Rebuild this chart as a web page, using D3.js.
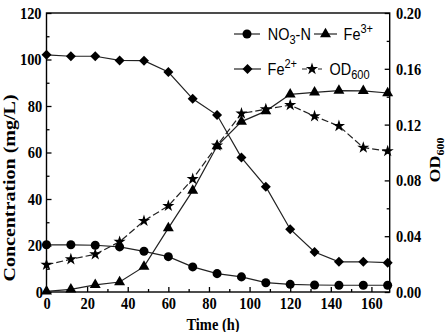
<!DOCTYPE html>
<meta charset="utf-8">
<style>
  body {
    margin: 0;
    background-color: white;
  }

  .sq {
    transform-box: fill-box;
    transform-origin: center;
    transform: scaleX(0.85);
  }

  .sqy {
    transform-box: fill-box;
    transform-origin: center;
    transform: scaleY(0.85);
  }

  .axis text {
    font: bold 17px "Liberation Serif", "Times New Roman", serif;
    fill: #000;
  }

  .axis path,
  .axis line {
    stroke: #000;
    stroke-width: 1.3;
  }
</style>

<body>
  <div id="chart"></div>

  <script src="https://cdn.jsdelivr.net/npm/d3@7/dist/d3.min.js"></script>

  <script>
    var times = [0, 12, 24, 36, 48, 60, 72, 84, 96, 108, 120, 132, 144, 156, 168];
    var no3 = [20.3, 20.3, 20.1, 19.4, 17.5, 15.2, 10.8, 7.9, 6.5, 4.0, 3.3, 3.0, 2.9, 2.9, 2.9];
    var fe3 = [0.3, 1.1, 3.1, 4.3, 10.9, 27.5, 43.6, 62.8, 73.3, 77.8, 85.0, 85.9, 86.6, 86.5, 85.6];
    var fe2 = [102.0, 101.4, 101.4, 99.6, 99.5, 94.6, 83.1, 76.1, 57.8, 45.3, 27.0, 17.2, 13.0, 13.0, 12.6];
    var od600 = [0.0195, 0.0235, 0.027, 0.036, 0.051, 0.0617, 0.081, 0.105, 0.128, 0.131, 0.134, 0.126, 0.119, 0.1035, 0.101];

    var xTicks = [0, 20, 40, 60, 80, 100, 120, 140, 160];
    var yTicks = [0, 20, 40, 60, 80, 100, 120];
    var y2Ticks = [0, 0.04, 0.08, 0.12, 0.16, 0.20];

    var W = 448, H = 332;
    var margin = { top: 13, right: 58.3, bottom: 40, left: 46.5 };
    var width = W - margin.left - margin.right,
      height = H - margin.top - margin.bottom;

    var svg = d3.select("#chart").append("svg")
      .attr("width", W)
      .attr("height", H);

    var g = svg.append("g")
      .attr("transform", "translate(" + margin.left + "," + margin.top + ")");

    var x = d3.scaleLinear().domain([0, 169]).range([0, width]);
    var y = d3.scaleLinear().domain([0, 120]).range([height, 0]);
    var y2 = d3.scaleLinear().domain([0, 0.20]).range([height, 0]);

    // a square turned 45 degrees, which is how the figure draws its diamonds
    var squareDiamond = {
      draw: function (ctx, size) {
        var r = Math.sqrt(size / 2);
        ctx.moveTo(0, -r);
        ctx.lineTo(r, 0);
        ctx.lineTo(0, r);
        ctx.lineTo(-r, 0);
        ctx.closePath();
      }
    };

    // frame
    g.append("rect")
      .attr("width", width)
      .attr("height", height)
      .attr("fill", "none")
      .attr("stroke", "#000")
      .attr("stroke-width", 1.4);

    // minor ticks first
    g.append("g").attr("class", "axis")
      .attr("transform", "translate(0," + height + ")")
      .call(d3.axisBottom(x).tickValues(d3.range(10, 169, 20)).tickSize(-3).tickFormat(""))
      .call(a => a.select(".domain").remove());
    g.append("g").attr("class", "axis")
      .call(d3.axisLeft(y).tickValues(d3.range(10, 120, 20)).tickSize(-3).tickFormat(""))
      .call(a => a.select(".domain").remove());
    g.append("g").attr("class", "axis")
      .attr("transform", "translate(" + width + ",0)")
      .call(d3.axisRight(y2).tickValues([0.02, 0.06, 0.10, 0.14, 0.18]).tickSize(-3).tickFormat(""))
      .call(a => a.select(".domain").remove());

    // major ticks
    g.append("g").attr("class", "axis")
      .attr("transform", "translate(0," + height + ")")
      .call(d3.axisBottom(x).tickValues(xTicks).tickSizeInner(-5).tickSizeOuter(0).tickPadding(5))
      .call(a => a.select(".domain").remove())
      .call(a => a.selectAll("text").attr("class", "sq"));

    g.append("g").attr("class", "axis")
      .call(d3.axisLeft(y).tickValues(yTicks).tickSizeInner(-5).tickSizeOuter(0).tickPadding(3))
      .call(a => a.select(".domain").remove())
      .call(a => a.selectAll("text").attr("class", "sq"));

    g.append("g").attr("class", "axis")
      .attr("transform", "translate(" + width + ",0)")
      .call(d3.axisRight(y2).tickValues(y2Ticks).tickFormat(d3.format(".2f"))
        .tickSizeInner(-5).tickSizeOuter(0).tickPadding(4))
      .call(a => a.select(".domain").remove())
      .call(a => a.selectAll("text").attr("class", "sq"));

    // axis titles
    svg.append("text")
      .attr("class", "sq")
      .attr("x", margin.left + x(82))
      .attr("y", 330)
      .attr("text-anchor", "middle")
      .style("font", "bold 17px 'Liberation Serif', serif")
      .text("Time (h)");

    svg.append("g")
      .attr("transform", "translate(16,188) rotate(-90)")
      .append("text")
      .attr("class", "sqy")
      .attr("text-anchor", "middle")
      .style("font", "bold 20px 'Liberation Serif', serif")
      .text("Concentration (mg/L)");

    var odTitle = svg.append("g")
      .attr("transform", "translate(441,160) rotate(-90)")
      .append("text")
      .attr("class", "sqy")
      .attr("text-anchor", "middle")
      .style("font", "bold 18px 'Liberation Serif', serif");
    odTitle.append("tspan").text("OD");
    odTitle.append("tspan").attr("dy", 4).style("font-size", "12px").text("600");

    // series
    var series = [
      { name: "no3", vals: no3, scale: y, sym: d3.symbolCircle, size: 64, dash: null },
      { name: "fe3", vals: fe3, scale: y, sym: d3.symbolTriangle, size: 52, dash: null },
      { name: "fe2", vals: fe2, scale: y, sym: squareDiamond, size: 50, dash: null },
      { name: "od", vals: od600, scale: y2, sym: d3.symbolStar, size: 46, dash: "7,3" }
    ];

    series.forEach(function (s) {
      var pts = times.map((t, i) => [x(t), s.scale(s.vals[i])]);
      g.append("path")
        .attr("d", d3.line()(pts))
        .attr("fill", "none")
        .attr("stroke", "#222")
        .attr("stroke-width", 1.2)
        .attr("stroke-dasharray", s.dash);
      g.selectAll(".m-" + s.name)
        .data(pts)
        .enter().append("path")
        .attr("class", "m-" + s.name)
        .attr("transform", d => "translate(" + d[0] + "," + d[1] + ")")
        .attr("d", d3.symbol().type(s.sym).size(s.size))
        .attr("fill", "#000");
    });

    // legend
    var legendFont = "17px 'Liberation Sans', Arial, sans-serif";
    var legendItems = [
      { s: series[0], lx: 234, cy: 34, tx: 264, label: ["NO", "3", "-N"], kind: "sub" },
      { s: series[1], lx: 314, cy: 34, tx: 341, label: ["Fe", "3+", ""], kind: "sup" },
      { s: series[2], lx: 234, cy: 69, tx: 265, label: ["Fe", "2+", ""], kind: "sup" },
      { s: series[3], lx: 302, cy: 69, tx: 326, label: ["OD", "600", ""], kind: "sub" }
    ];

    legendItems.forEach(function (it) {
      var len = it.tx - it.lx - 4;
      svg.append("line")
        .attr("x1", it.lx).attr("x2", it.lx + len)
        .attr("y1", it.cy).attr("y2", it.cy)
        .attr("stroke", "#222")
        .attr("stroke-width", 1.2)
        .attr("stroke-dasharray", it.s.dash ? "5,3" : null);
      svg.append("path")
        .attr("transform", "translate(" + (it.lx + len / 2) + "," + it.cy + ")")
        .attr("d", d3.symbol().type(it.s.sym).size(it.s.size))
        .attr("fill", "#000");
      var t = svg.append("text")
        .attr("class", "sq")
        .attr("x", it.tx)
        .attr("y", it.cy + 6)
        .style("font", legendFont);
      t.append("tspan").text(it.label[0]);
      t.append("tspan")
        .attr("dy", it.kind == "sub" ? 4 : -7)
        .style("font-size", "13px")
        .text(it.label[1]);
      if (it.label[2]) {
        t.append("tspan").attr("dy", -4).text(it.label[2]);
      }
    });
  </script>
</body>

</html>
